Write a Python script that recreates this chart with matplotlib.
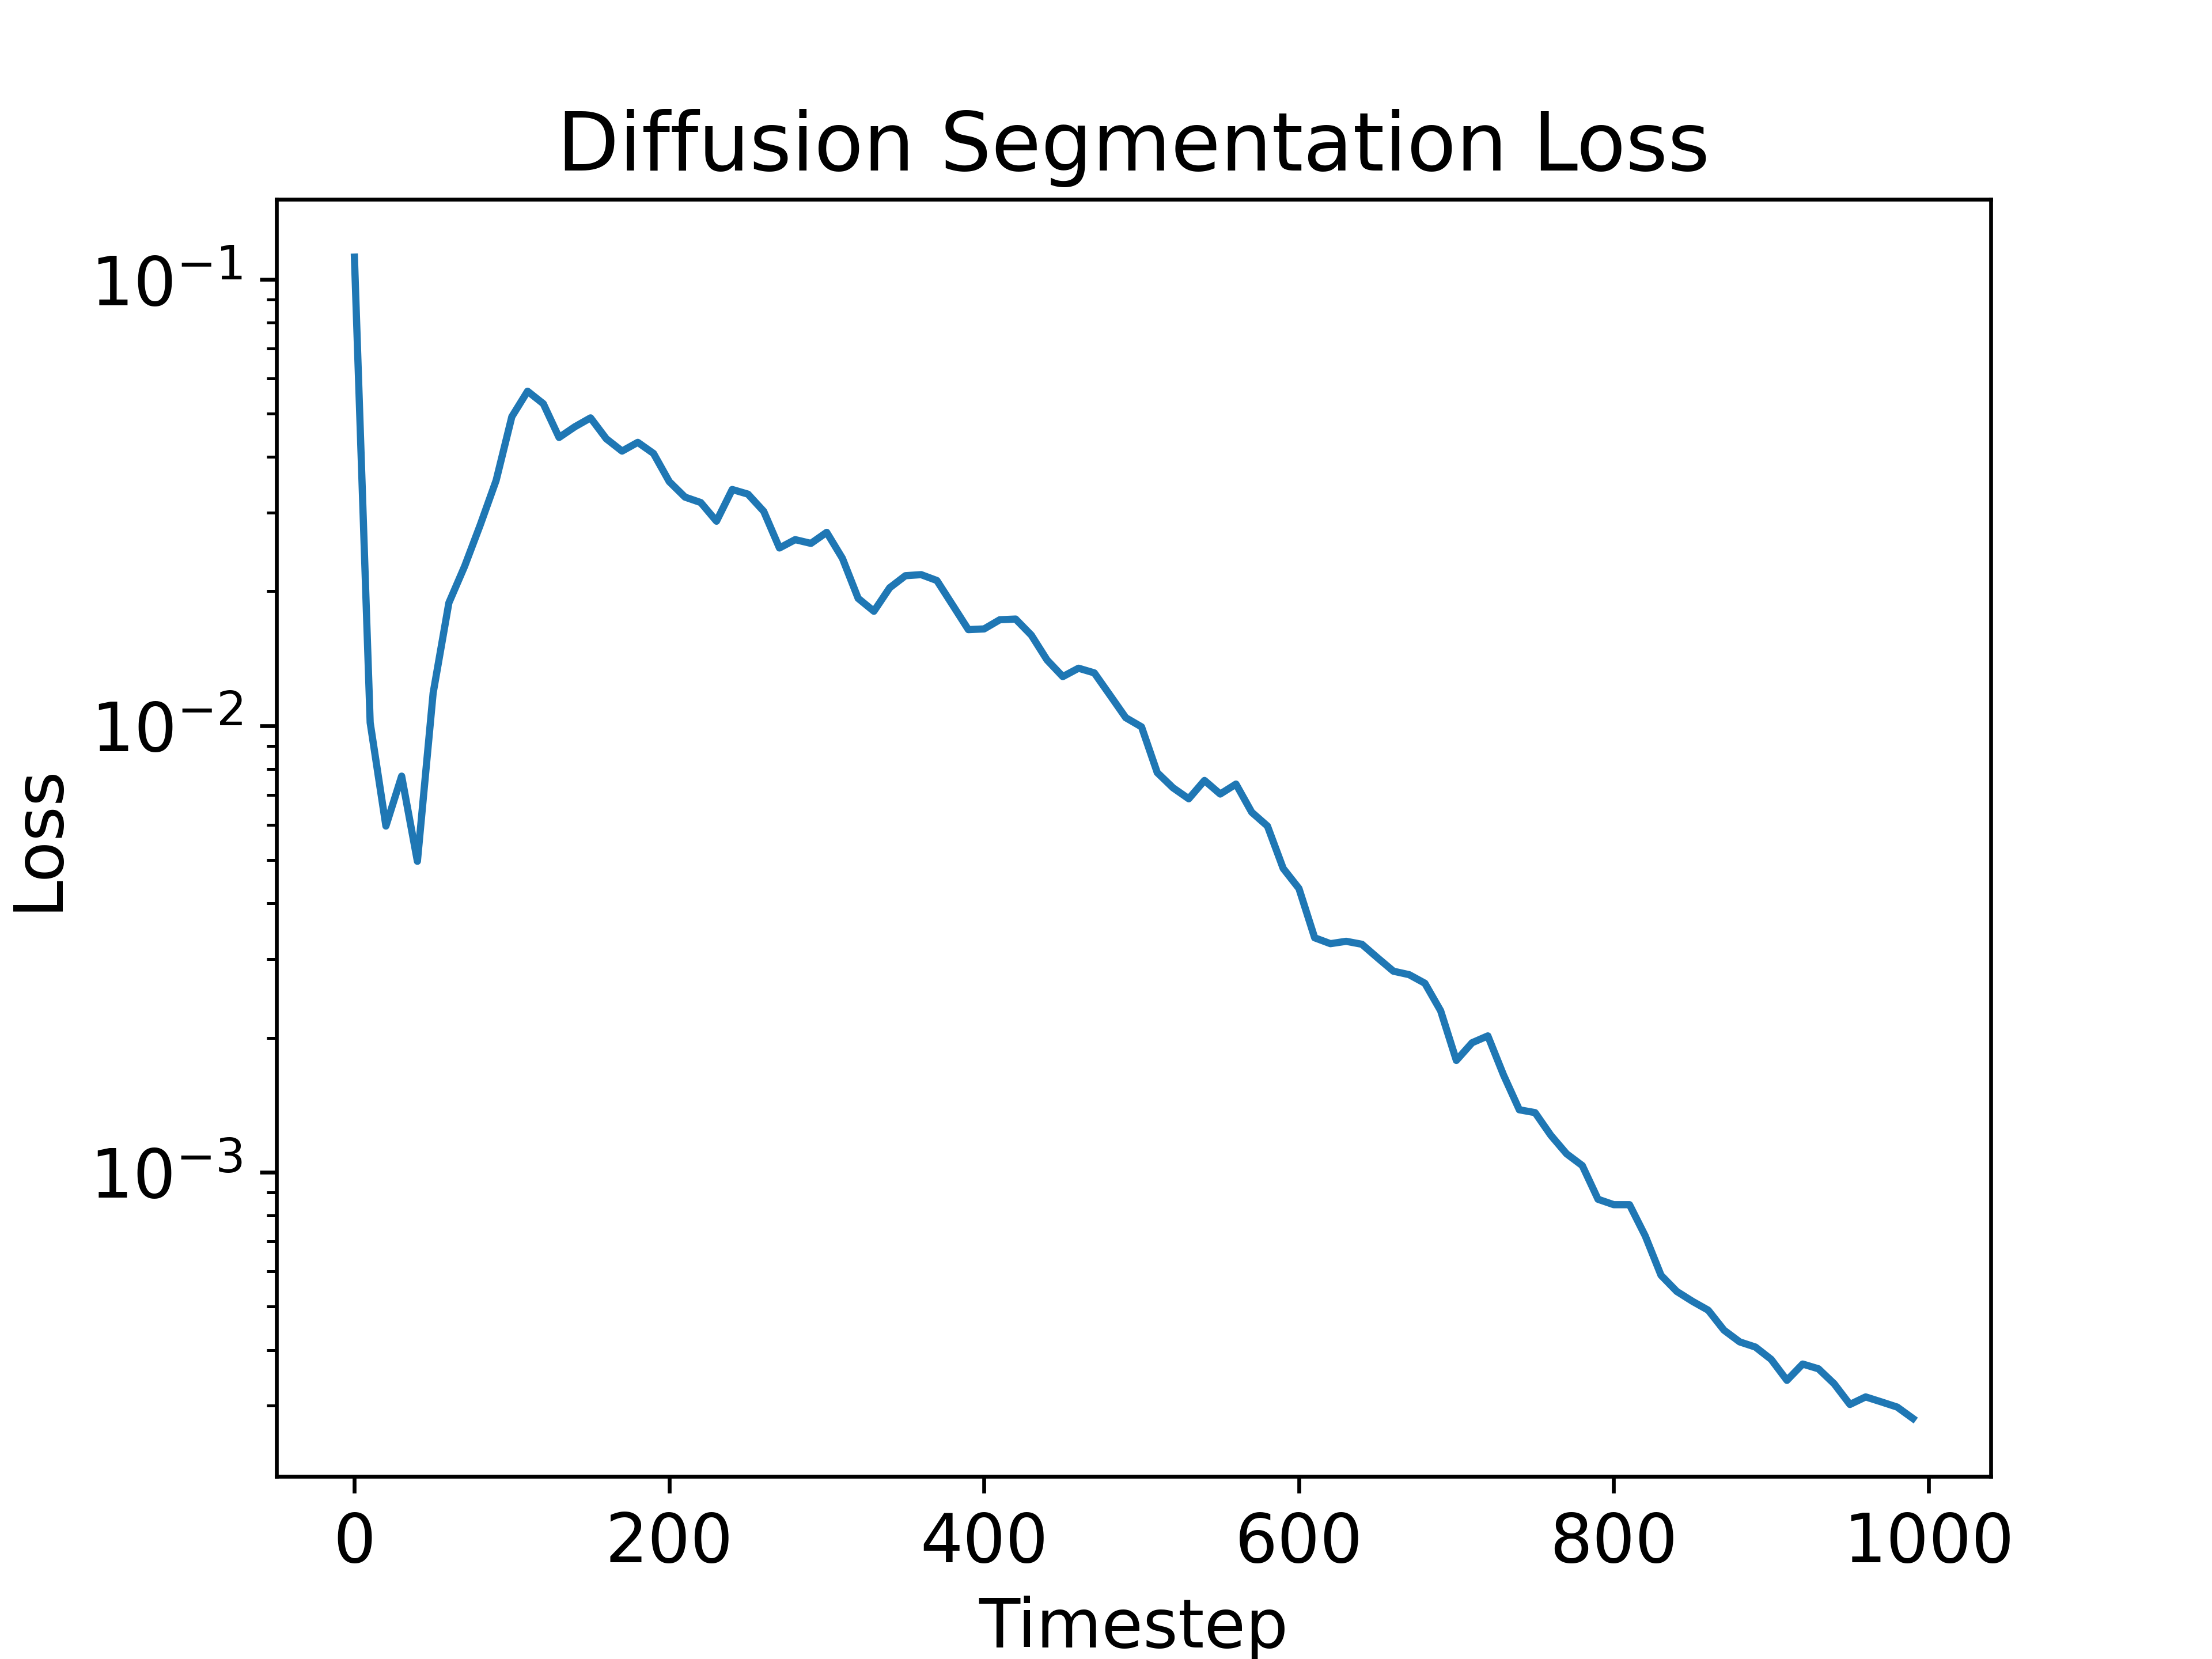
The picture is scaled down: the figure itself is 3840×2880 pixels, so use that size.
import matplotlib
matplotlib.use("Agg")
import matplotlib.pyplot as plt

plt.rcParams['font.size'] = 14

timesteps = list(range(0, 1000, 10))
loss = [
    0.112, 0.01016, 0.00596, 0.00771, 0.00497, 0.01183, 0.01884, 0.02275, 0.0282, 0.0354,
    0.0492, 0.0561, 0.0526, 0.0442, 0.0467, 0.0489, 0.0439, 0.0412, 0.0431, 0.0407,
    0.0352, 0.0325, 0.0316, 0.0287, 0.0338, 0.0330, 0.0302, 0.0250, 0.0261, 0.0256,
    0.0271, 0.0237, 0.01928, 0.01804, 0.02036, 0.02167, 0.02179, 0.02114, 0.01863, 0.01641,
    0.01647, 0.01727, 0.01733, 0.01595, 0.01403, 0.01288, 0.01345, 0.01313, 0.0117, 0.01042,
    0.00994, 0.00785, 0.00726, 0.00686, 0.00754, 0.00703, 0.00740, 0.00640, 0.00596, 0.00479,
    0.00432, 0.00335, 0.00325, 0.00329, 0.00324, 0.00302, 0.00282, 0.00277, 0.00265, 0.00230,
    0.00178, 0.00195, 0.00202, 0.00165, 0.00138, 0.00136, 0.00121, 0.00110, 0.001035, 0.000870,
    0.000846, 0.000846, 0.000720, 0.000588, 0.000541, 0.000514, 0.000491, 0.000443, 0.000417, 0.000406,
    0.000381, 0.000342, 0.000372, 0.000363, 0.000336, 0.000302, 0.000314, 0.000306, 0.000298, 0.000281,
]

title = "Diffusion Segmentation Loss"
xlabel = "Timestep"
ylabel = "Loss"

fig, ax = plt.subplots(figsize=(6.4, 4.8), dpi=600)
ax.plot(timesteps, loss)
ax.set_yscale('log')
ax.set_title(title)
ax.set_xlabel(xlabel)
ax.set_ylabel(ylabel)
fig.savefig("out.png", dpi=600)
